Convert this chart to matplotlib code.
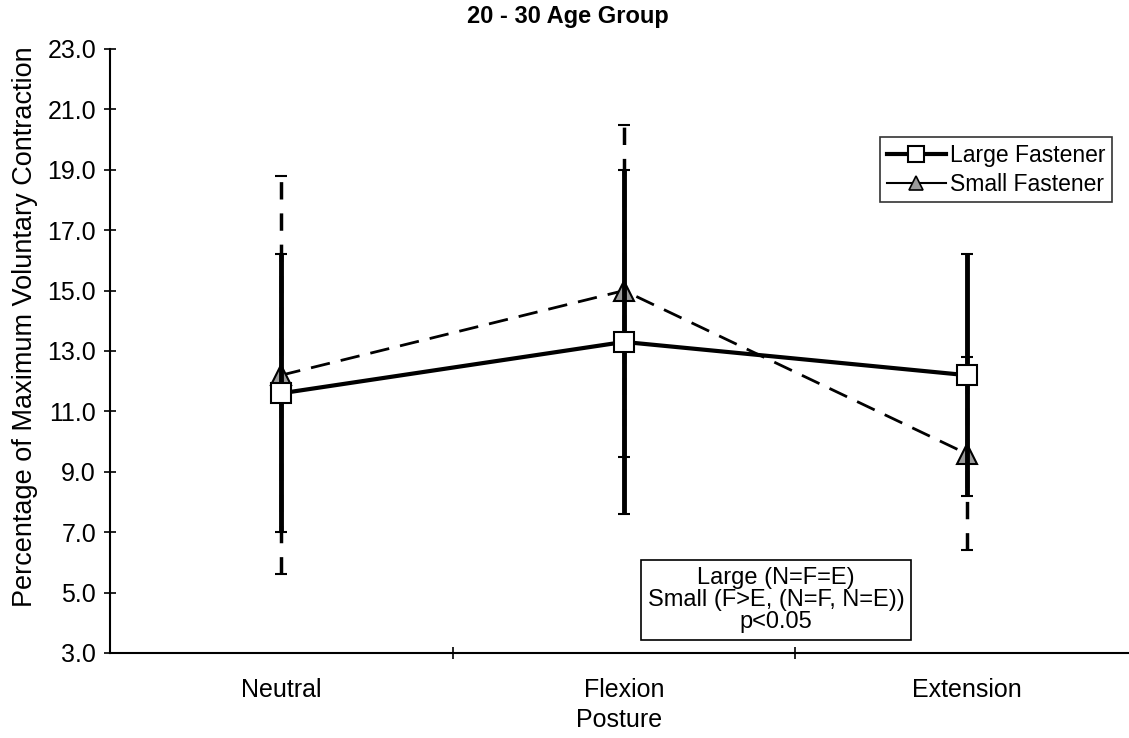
import numpy as np
import matplotlib
matplotlib.use("Agg")
import matplotlib.pyplot as plt
from matplotlib.lines import Line2D

plt.rcParams['font.family'] = ['Liberation Sans', 'DejaVu Sans']

postures = ["Neutral", "Flexion", "Extension"]
large_mean = [11.6, 13.3, 12.2]
large_err = [4.6, 5.7, 4.0]
small_mean = [12.2, 15.0, 9.6]
small_err = [6.6, 5.5, 3.2]
y_ticks = [3.0, 5.0, 7.0, 9.0, 11.0, 13.0, 15.0, 17.0, 19.0, 21.0, 23.0]

fig = plt.figure(figsize=(11.29, 7.38), dpi=100)
ax = fig.add_axes([110 / 1129, 85 / 738, 1019 / 1129, 604 / 738])

x = np.arange(len(postures))

# Small fastener (dashed) drawn first, large solid on top
eb_s = ax.errorbar(x, small_mean, yerr=small_err, color='black', lw=2,
                   ls=(0, (7, 4)), marker='^', ms=15, mfc='#9a9a9a',
                   mec='black', mew=1.5, ecolor='black', elinewidth=2.5,
                   capsize=4, capthick=2.5, zorder=2)
for bl in eb_s[2]:
    bl.set_linestyle((0, (5, 4)))

eb_l = ax.errorbar(x, large_mean, yerr=large_err, color='black', lw=3,
                   ls='-', marker='s', ms=15, mfc='white', mec='black',
                   mew=1.5, ecolor='black', elinewidth=3.5, capsize=4,
                   capthick=2.5, zorder=3)

ax.set_xlim(-0.5, 2.474)
ax.set_ylim(3.0, 23.0)
ax.set_yticks(y_ticks)
ax.set_yticklabels([f"{v:.1f}" for v in y_ticks], fontsize=18)
ax.set_xticks(x)
ax.set_xticklabels(postures, fontsize=18)
ax.set_xticks([0.5, 1.5], minor=True)
ax.tick_params(axis='x', which='major', length=0, pad=18)
ax.tick_params(axis='x', which='minor', length=8, width=1.2, direction='inout')
ax.tick_params(axis='y', length=8, width=1.2, direction='inout', pad=6)

for side in ['top', 'right']:
    ax.spines[side].set_visible(False)
for side in ['left', 'bottom']:
    ax.spines[side].set_linewidth(1.5)

ax.set_ylabel("Percentage of Maximum Voluntary Contraction", fontsize=19.5)
ax.yaxis.set_label_coords(-72 / 1019, 0.541)
ax.set_xlabel("Posture", fontsize=18, labelpad=4)

fig.text(568 / 1129, 1 - 16 / 738, "20 - 30 Age Group", ha='center', va='center',
         fontsize=17, fontweight='bold')

handles = [
    Line2D([], [], color='black', lw=3, marker='s', ms=11, mfc='white', mec='black', mew=1.5),
    Line2D([], [], color='black', lw=1.5, marker='^', ms=10, mfc='#9a9a9a', mec='black', mew=1.2),
]
leg = ax.legend(handles, ["Large Fastener", "Small Fastener"], loc='upper right',
                bbox_to_anchor=(1112 / 1129, 1 - 137 / 738),
                bbox_transform=fig.transFigure,
                fontsize=16.5, frameon=True, fancybox=False, edgecolor='black',
                handlelength=2.6, handletextpad=0.15, borderpad=0.3,
                labelspacing=0.25, borderaxespad=0)
leg.get_frame().set_linewidth(1.2)

fig.text(776 / 1129, 1 - 600 / 738, "Large (N=F=E)\nSmall (F>E, (N=F, N=E))\np<0.05",
         ha='center', va='center', fontsize=17, linespacing=0.98,
         bbox=dict(boxstyle='square,pad=0.3', fc='white', ec='black', lw=1.2))

fig.savefig("out.png", dpi=100)
